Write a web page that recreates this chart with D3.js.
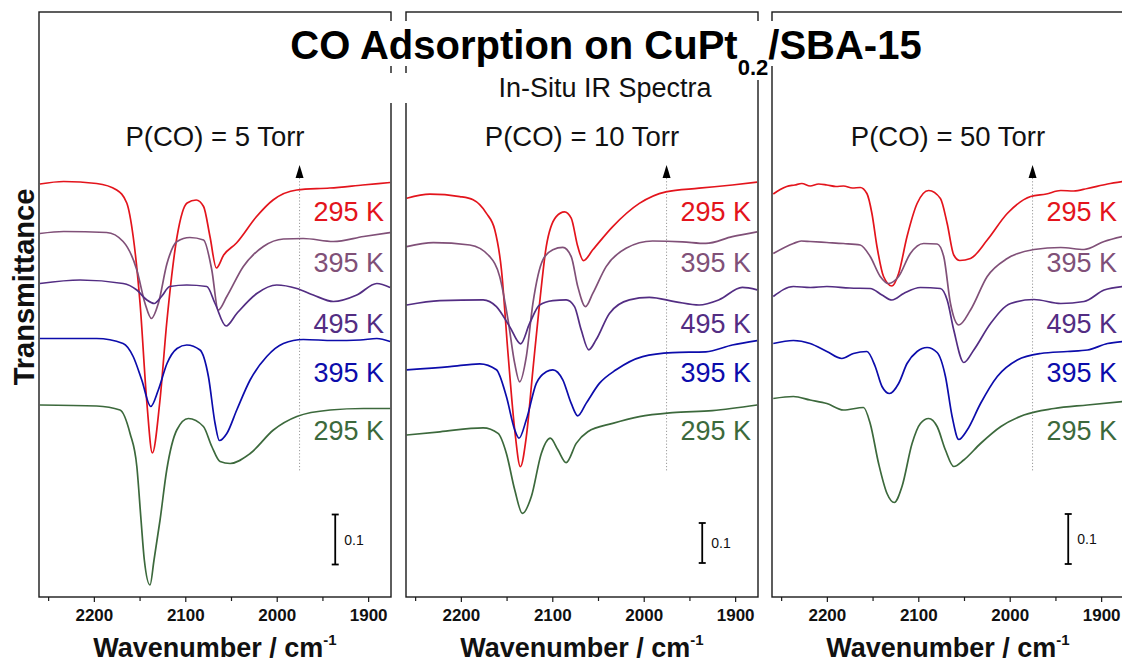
<!DOCTYPE html>
<html>
<head>
<meta charset="utf-8">
<script src="https://cdn.jsdelivr.net/npm/d3@7"></script>
<style>
  html, body { margin: 0; padding: 0; background: #fff; }
  svg { display: block; font-family: "Liberation Sans", Arial, sans-serif; }
</style>
</head>
<body>
<svg id="chart" width="1122" height="662"></svg>
<script>
// ---------------- DATA ----------------
const titleMain = "CO Adsorption on CuPt";
const titleSub = "0.2";
const titleEnd = "/SBA-15";
const subtitle = "In-Situ IR Spectra";
const pressureLabels = ["P(CO) = 5 Torr", "P(CO) = 10 Torr", "P(CO) = 50 Torr"];
const temperatureLabels = ["295 K", "395 K", "495 K", "395 K", "295 K"];
const majorTicks = [2200, 2100, 2000, 1900];
const minorTicks = [2250, 2150, 2050, 1950];
const xDomain = [2260, 1875];
const markerWavenumber = 1975;
const scaleBarValue = 0.1;
const scaleBarWavenumber = 1936;
const scaleBarBottom = [0.065, 0.085, 0.066];
const yMax = [1.17, 1.4625, 1.17];

// P(CO) = 5 Torr  — [wavenumber, transmittance (offset)]
const p5_295a = [[2259,0.826],[2233,0.831],[2197,0.827],[2175,0.814],[2164,0.788],[2157,0.721],[2149.5,0.588],[2142,0.388],[2136,0.288],[2128,0.388],[2120,0.554],[2109,0.721],[2098,0.788],[2088,0.794],[2080,0.781],[2073,0.721],[2066,0.658],[2058,0.684],[2044,0.708],[2022,0.761],[2004,0.794],[1978,0.814],[1942,0.818],[1906,0.824],[1876,0.829]];
const p5_395a = [[2259,0.727],[2233,0.731],[2186,0.729],[2168,0.711],[2153,0.654],[2144,0.587],[2137,0.557],[2129.5,0.587],[2120,0.667],[2109,0.711],[2095,0.719],[2080,0.714],[2071,0.654],[2064,0.574],[2054.6,0.601],[2036.5,0.661],[2014.6,0.701],[1992.7,0.716],[1971,0.717],[1938,0.711],[1905,0.721],[1876,0.729]];
const p5_495 = [[2259,0.627],[2215,0.634],[2168,0.627],[2153,0.614],[2142,0.594],[2134,0.587],[2126,0.601],[2117,0.621],[2098.4,0.624],[2076.5,0.621],[2067.4,0.587],[2055.4,0.542],[2043.7,0.567],[2021.8,0.607],[2000,0.624],[1978,0.617],[1960,0.604],[1938,0.591],[1912.4,0.604],[1890.5,0.627],[1876,0.619]];
const p5_395b = [[2259,0.517],[2197,0.517],[2168,0.507],[2157,0.481],[2147.6,0.434],[2137.8,0.381],[2129.5,0.414],[2120,0.467],[2109,0.497],[2098.4,0.504],[2083.9,0.494],[2074.7,0.441],[2067.4,0.347],[2062.7,0.313],[2054.6,0.327],[2043.7,0.374],[2029.1,0.434],[2010.9,0.481],[1992.7,0.507],[1971,0.515],[1938,0.513],[1908.8,0.514],[1890.5,0.517],[1876,0.511]];
const p5_295b = [[2259,0.384],[2197,0.382],[2171.4,0.374],[2160.4,0.327],[2153,0.261],[2148.4,0.154],[2144.8,0.074],[2138.6,0.024],[2134.2,0.074],[2127.6,0.154],[2120.3,0.254],[2109.3,0.334],[2096.7,0.357],[2080.2,0.341],[2071,0.301],[2062,0.271],[2051,0.267],[2029,0.287],[2003.6,0.334],[1978,0.361],[1941.6,0.374],[1905,0.377],[1876,0.377]];

// P(CO) = 10 Torr
const p10_295a = [[2259.2,0.997],[2233.8,1.007],[2201.1,1.001],[2186.6,0.993],[2172,0.959],[2162.9,0.918],[2155.6,0.818],[2148.4,0.608],[2141.1,0.418],[2134.9,0.326],[2128.4,0.401],[2121.2,0.568],[2113.9,0.734],[2106.6,0.876],[2095.7,0.951],[2086.6,0.963],[2079.3,0.947],[2072.1,0.876],[2065.9,0.841],[2055.7,0.868],[2033.9,0.926],[2004.8,0.984],[1975.7,1.013],[1939.4,1.022],[1903.1,1.03],[1876,1.037]];
const p10_395a = [[2259.2,0.876],[2230.2,0.886],[2190.2,0.88],[2168.4,0.851],[2157.5,0.801],[2148.4,0.693],[2141.1,0.584],[2135.7,0.538],[2128.4,0.601],[2121.2,0.734],[2110.3,0.843],[2099.4,0.868],[2088.5,0.874],[2079.3,0.851],[2072.1,0.776],[2063.7,0.726],[2055.7,0.759],[2041.1,0.826],[2019.3,0.872],[1990.3,0.89],[1957.6,0.888],[1932.1,0.884],[1903.1,0.901],[1876,0.913]];
const p10_495 = [[2259.2,0.73],[2222.9,0.741],[2175.7,0.743],[2161.1,0.726],[2146.6,0.676],[2134.6,0.633],[2124.8,0.684],[2113.9,0.73],[2099.4,0.741],[2084.8,0.743],[2075.7,0.726],[2068.4,0.668],[2060.1,0.618],[2052.1,0.643],[2037.5,0.709],[2015.7,0.743],[1993.9,0.749],[1964.8,0.738],[1939.4,0.73],[1917.6,0.743],[1892.2,0.774],[1876,0.768]];
const p10_395b = [[2259.2,0.568],[2212,0.576],[2179.3,0.583],[2161.1,0.568],[2150.2,0.501],[2141.1,0.418],[2136.4,0.397],[2128.4,0.443],[2117.5,0.534],[2106.6,0.563],[2099.4,0.568],[2088.5,0.543],[2079.3,0.484],[2072.1,0.453],[2063,0.484],[2048.5,0.534],[2030.2,0.568],[2001.2,0.601],[1968.5,0.611],[1932.1,0.613],[1903.1,0.63],[1876,0.641]];
const p10_295b = [[2259.2,0.405],[2222.9,0.413],[2175.7,0.423],[2159.3,0.409],[2150.2,0.359],[2141.1,0.268],[2132.7,0.209],[2122.9,0.251],[2112,0.359],[2102.2,0.397],[2093.9,0.368],[2084.8,0.336],[2073.8,0.384],[2061.2,0.413],[2033.9,0.434],[2004.8,0.451],[1968.5,0.461],[1924.9,0.466],[1876,0.48]];

// P(CO) = 50 Torr
const p50_295a = [[2258.6,0.806],[2251,0.815],[2243.9,0.821],[2235,0.824],[2227.4,0.827],[2218.3,0.822],[2209,0.826],[2200,0.824],[2190,0.821],[2181.8,0.822],[2172,0.818],[2163.5,0.819],[2156.2,0.807],[2150.7,0.767],[2145.2,0.701],[2138,0.641],[2128.8,0.622],[2121.5,0.647],[2112.3,0.721],[2101.3,0.787],[2088.6,0.813],[2075.8,0.797],[2068.4,0.747],[2061.2,0.684],[2054.6,0.673],[2042.9,0.677],[2024.6,0.714],[2002.7,0.767],[1977.1,0.801],[1960,0.806],[1944.2,0.813],[1930,0.812],[1915,0.817],[1893,0.826],[1876.2,0.831]];
const p50_395a = [[2258.6,0.687],[2236.6,0.707],[2228,0.712],[2218.3,0.711],[2200,0.709],[2181.8,0.707],[2163.5,0.704],[2152.6,0.681],[2141.6,0.641],[2132.5,0.627],[2121.5,0.641],[2108.7,0.687],[2094.1,0.707],[2079.4,0.706],[2072.2,0.681],[2064.8,0.587],[2055.7,0.544],[2042.9,0.574],[2024.6,0.641],[2002.7,0.677],[1973.5,0.695],[1944.2,0.699],[1918.7,0.695],[1896.7,0.711],[1876.2,0.721]];
const p50_495 = [[2258.6,0.601],[2236.6,0.621],[2218,0.619],[2200,0.621],[2175,0.618],[2152.6,0.617],[2139.7,0.604],[2128.8,0.594],[2116,0.607],[2097.7,0.619],[2075.8,0.617],[2068.4,0.594],[2061.2,0.534],[2050.2,0.469],[2039.3,0.494],[2021,0.547],[1999,0.587],[1973.5,0.595],[1944.2,0.587],[1918.7,0.591],[1896.7,0.614],[1876.2,0.621]];
const p50_395b = [[2258.6,0.507],[2236.6,0.513],[2218.3,0.507],[2200,0.491],[2183.6,0.477],[2170.9,0.487],[2156.2,0.491],[2147.1,0.461],[2139.7,0.421],[2131.4,0.407],[2121.5,0.427],[2112.3,0.467],[2101.3,0.491],[2090.4,0.499],[2079.4,0.489],[2070.3,0.441],[2063,0.361],[2055.7,0.315],[2046.5,0.334],[2031.9,0.387],[2013.6,0.441],[1991.7,0.474],[1966.1,0.487],[1936.9,0.491],[1914.9,0.494],[1893,0.507],[1876.2,0.511]];
const p50_295b = [[2258.6,0.397],[2236.6,0.401],[2218.3,0.394],[2200,0.387],[2181.8,0.374],[2159.9,0.379],[2152.6,0.347],[2143.4,0.267],[2134.2,0.207],[2126.2,0.189],[2117.8,0.221],[2106.8,0.307],[2097.7,0.347],[2088.6,0.357],[2079.4,0.341],[2070.3,0.294],[2061.2,0.261],[2050.2,0.274],[2031.9,0.307],[2009.6,0.341],[1984.5,0.364],[1951.6,0.377],[1915,0.384],[1876.2,0.391]];

// ---------------- STYLE / LAYOUT ----------------
const colors = ["#e3141c", "#805078", "#532d83", "#0c0cab", "#3c693c"];
const panelLefts = [39, 406, 772];
const panelWidth = 352;
const plotTop = 12, plotBottom = 597;
const labelBaselines = [221, 272, 333, 382, 440];
const fontFamily = '"Liberation Sans", Arial, sans-serif';

const panels = [
  { label: pressureLabels[0], traces: [p5_295a, p5_395a, p5_495, p5_395b, p5_295b], yMax: yMax[0], barBottom: scaleBarBottom[0] },
  { label: pressureLabels[1], traces: [p10_295a, p10_395a, p10_495, p10_395b, p10_295b], yMax: yMax[1], barBottom: scaleBarBottom[1] },
  { label: pressureLabels[2], traces: [p50_295a, p50_395a, p50_495, p50_395b, p50_295b], yMax: yMax[2], barBottom: scaleBarBottom[2] }
];

const svg = d3.select("#chart");

panels.forEach((p, i) => {
  const left = panelLefts[i];
  const right = left + panelWidth;
  const x = d3.scaleLinear().domain(xDomain).range([left, right]);
  const y = d3.scaleLinear().domain([0, p.yMax]).range([plotBottom, plotTop]);
  const g = svg.append("g");

  const clipId = "clip" + i;
  svg.append("clipPath").attr("id", clipId).append("rect")
    .attr("x", left).attr("y", plotTop).attr("width", panelWidth).attr("height", plotBottom - plotTop);

  // dotted marker line + arrow
  const mx = x(markerWavenumber);
  g.append("line").attr("x1", mx).attr("x2", mx).attr("y1", 178).attr("y2", 472)
    .attr("stroke", "#9a9a9a").attr("stroke-width", 1).attr("stroke-dasharray", "1.2,2");
  g.append("path").attr("d", `M${mx},165 L${mx - 4},178 L${mx + 4},178 Z`).attr("fill", "#000");

  // traces
  const line = d3.line().x(d => x(d[0])).y(d => y(d[1])).curve(d3.curveMonotoneX);
  const tg = g.append("g").attr("clip-path", `url(#${clipId})`);
  p.traces.forEach((tr, k) => {
    tg.append("path").datum(tr).attr("d", line)
      .attr("fill", "none").attr("stroke", colors[k]).attr("stroke-width", 1.7)
      .attr("stroke-linejoin", "round");
  });

  // temperature labels
  temperatureLabels.forEach((t, k) => {
    g.append("text").attr("x", right - 7).attr("y", labelBaselines[k])
      .attr("text-anchor", "end").attr("font-size", 27).attr("fill", colors[k]).text(t);
  });

  // pressure label
  g.append("text").attr("x", (left + right) / 2).attr("y", 146)
    .attr("text-anchor", "middle").attr("font-size", 27.5).attr("fill", "#111").text(p.label);

  // scale bar
  const bx = x(scaleBarWavenumber);
  const by0 = y(p.barBottom), by1 = y(p.barBottom + scaleBarValue);
  const sb = g.append("g").attr("stroke", "#000").attr("stroke-width", 1.8);
  sb.append("line").attr("x1", bx).attr("x2", bx).attr("y1", by0).attr("y2", by1);
  sb.append("line").attr("x1", bx - 3.5).attr("x2", bx + 3.5).attr("y1", by0).attr("y2", by0);
  sb.append("line").attr("x1", bx - 3.5).attr("x2", bx + 3.5).attr("y1", by1).attr("y2", by1);
  g.append("text").attr("x", bx + 9).attr("y", (by0 + by1) / 2 + 5)
    .attr("font-size", 14).attr("fill", "#111").text(String(scaleBarValue));

  // box
  g.append("rect").attr("x", left).attr("y", plotTop).attr("width", panelWidth).attr("height", plotBottom - plotTop)
    .attr("fill", "none").attr("stroke", "#1a1a1a").attr("stroke-width", 1.4);

  // x axis
  const ax = g.append("g").attr("transform", `translate(0,${plotBottom})`)
    .call(d3.axisBottom(x).tickValues(majorTicks).tickSize(5).tickPadding(7).tickFormat(d3.format("d")));
  ax.select(".domain").remove();
  ax.selectAll("line").attr("stroke", "#1a1a1a").attr("stroke-width", 1.2);
  ax.selectAll("text").attr("font-family", fontFamily).attr("font-size", 17).attr("font-weight", "bold").attr("fill", "#111");
  const axm = g.append("g").attr("transform", `translate(0,${plotBottom})`)
    .call(d3.axisBottom(x).tickValues(minorTicks).tickSize(4).tickFormat(""));
  axm.select(".domain").remove();
  axm.selectAll("line").attr("stroke", "#1a1a1a").attr("stroke-width", 1.2);

  // x axis title
  const xt = g.append("text").attr("x", (left + right) / 2).attr("y", 657)
    .attr("text-anchor", "middle").attr("font-size", 27).attr("font-weight", "bold").attr("fill", "#111");
  xt.append("tspan").text("Wavenumber / cm");
  xt.append("tspan").attr("font-size", 15).attr("dy", -12).text("-1");
});

// y axis title
svg.append("text").attr("transform", "translate(34,287) rotate(-90)")
  .attr("text-anchor", "middle").attr("font-size", 29).attr("font-weight", "bold").attr("fill", "#111")
  .text("Transmittance");

// title backgrounds
svg.append("rect").attr("x", 283).attr("y", 21).attr("width", 647).attr("height", 45).attr("fill", "#fff");
svg.append("rect").attr("x", 736).attr("y", 60).attr("width", 34).attr("height", 20).attr("fill", "#fff");
svg.append("rect").attr("x", 385).attr("y", 73).attr("width", 360).attr("height", 30).attr("fill", "#fff");

// title
const tt = svg.append("text").attr("x", 606).attr("y", 59).attr("text-anchor", "middle")
  .attr("font-weight", "bold").attr("font-size", 40).attr("fill", "#000");
tt.append("tspan").text(titleMain);
tt.append("tspan").attr("font-size", 22).attr("dy", 16).text(titleSub);
tt.append("tspan").attr("dy", -16).text(titleEnd);

svg.append("text").attr("x", 605).attr("y", 97).attr("text-anchor", "middle")
  .attr("font-size", 27).attr("fill", "#111").text(subtitle);
</script>
</body>
</html>
